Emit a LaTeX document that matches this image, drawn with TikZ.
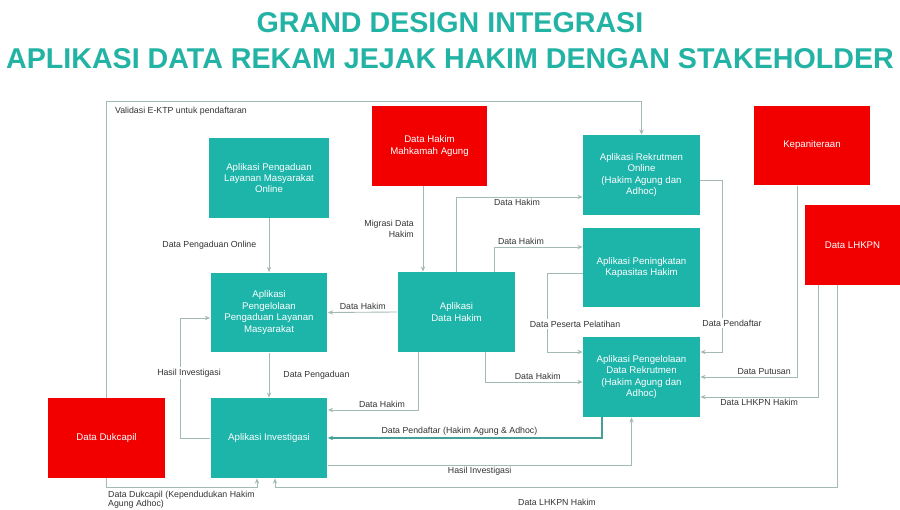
\documentclass[tikz,border=0pt]{standalone}
\usepackage{fontspec}
\setmainfont{Liberation Sans}
\usetikzlibrary{positioning, arrows.meta, calc}
\definecolor{tealbox}{HTML}{1DB5AA}
\definecolor{redbox}{HTML}{F20000}
\definecolor{titleteal}{HTML}{22B3A5}
\definecolor{linegray}{HTML}{A3BAB7}

\begin{document}
\begin{tikzpicture}[x=0.02cm, y=-0.02cm,
  app/.style={fill=tealbox, text=white, minimum width=2.34cm, minimum height=1.6cm,
    align=center, inner sep=1pt, font=\fontsize{5.5}{6.5}\selectfont},
  src/.style={app, fill=redbox},
  conn/.style={draw=linegray, line width=0.5pt, -{Stealth[length=3pt,width=2.5pt]}},
  lbl/.style={font=\fontsize{5}{6}\selectfont, text=black!80, inner sep=1pt},
  title/.style={font=\bfseries\fontsize{16.3}{19}\selectfont, text=titleteal}]
\useasboundingbox (0,0) rectangle (900,510);

% judul
\node[title] (t1) at (450,23) {GRAND DESIGN INTEGRASI};
\node[title] (t2) at (450,59) {APLIKASI DATA REKAM JEJAK HAKIM DENGAN STAKEHOLDER};

% kotak aplikasi dan sumber data
\node[app, minimum width=2.4cm] (onl) at (269,178) {Aplikasi Pengaduan\\Layanan Masyarakat\\Online};
\node[src, minimum width=2.3cm] (mahk) at (429.5,146) {Data Hakim\\Mahkamah Agung};
\node[app] (rekr) at (641.5,175) {Aplikasi Rekrutmen\\Online\\(Hakim Agung dan\\Adhoc)};
\node[src, minimum width=2.32cm] (kep) at (812,145.5) {Kepaniteraan};
\node[src, minimum width=1.9cm] (lhkpn) at (852.5,245) {Data LHKPN};
\node[app] (pkh) at (641.5,267.5) {Aplikasi Peningkatan\\Kapasitas Hakim};
\node[app] (peng) at (269,312.5) {Aplikasi\\Pengelolaan\\Pengaduan Layanan\\Masyarakat};
\node[app] (dh) at (456.5,312) {Aplikasi\\Data Hakim};
\node[app] (rkd) at (641.5,377) {Aplikasi Pengelolaan\\Data Rekrutmen\\(Hakim Agung dan\\Adhoc)};
\node[src] (dukc) at (106.5,438) {Data Dukcapil};
\node[app] (inv) at (269,438) {Aplikasi Investigasi};

% titik bantu
\coordinate (tl) at (107,101);
\coordinate (bl) at (107,487);
\coordinate (br) at (837,487);
\coordinate (mig) at ([xshift=-0.13cm]mahk.south);
\coordinate (invin1) at ([xshift=-0.24cm]inv.south);
\coordinate (invin2) at ([xshift=0.12cm]inv.south);

% alur data
\draw[conn] (dukc.north) |- (tl -| rekr.north) -- (rekr.north);
\node[lbl, anchor=west] (lval) at (113,111) {Validasi E-KTP untuk pendaftaran};
\draw[conn] (dukc.south) |- (invin1 |- bl) -- (invin1);
\node[lbl, anchor=south west, align=left, inner sep=0.5pt, font=\fontsize{5}{5.2}\selectfont] (lduk) at (107,510) {Data Dukcapil (Kependudukan Hakim\\Agung Adhoc)};
\draw[conn] ([xshift=-0.31cm]lhkpn.south) |- (invin2 |- br) -- (invin2);
\node[lbl] (llhk) at (557,502) {Data LHKPN Hakim};

\draw[conn] (onl.south) -- (peng.north) node[lbl, midway, left=6pt] {Data Pengaduan Online};
\draw[conn] (mig) -- (mig |- dh.north) node[lbl, midway, left=4pt, align=right] {Migrasi Data\\Hakim};
\draw[conn] (dh.north) |- ([yshift=-0.44cm]rekr.west) node[lbl, pos=0.74, below] {Data Hakim};
\draw[conn] ([xshift=0.76cm]dh.north) |- ([yshift=0.41cm]pkh.west) node[lbl, pos=0.65, above] {Data Hakim};
\draw[conn] (dh.west) -- (peng.east) node[lbl, midway, above] {Data Hakim};
\draw[conn] ([xshift=0.57cm]dh.south) |- ([yshift=-0.1cm]rkd.west) node[lbl, pos=0.77, above] {Data Hakim};
\draw[conn] ([xshift=-0.77cm]dh.south) |- ([yshift=0.56cm]inv.east) node[lbl, pos=0.7, above] {Data Hakim};

\draw[conn] ([yshift=-0.11cm]pkh.west) -- ++(-35,0) |- ([yshift=0.5cm]rkd.west);
\node[lbl, fill=white] (lpes) at (575,324) {Data Peserta Pelatihan};
\draw[conn] ([yshift=-0.1cm]rekr.east) -- ++(22,0) |- ([yshift=0.5cm]rkd.east);
\node[lbl, fill=white] (lpen) at (732,323) {Data Pendaftar};
\draw[conn] ([xshift=-0.3cm]kep.south) |- (rkd.east) node[lbl, pos=0.67, above] {Data Putusan};
\draw[conn] ([xshift=-0.69cm]lhkpn.south) |- ([yshift=-0.4cm]rkd.east) node[lbl, pos=0.75, below] {Data LHKPN Hakim};

\draw[conn, draw=tealbox!60!gray, line width=1pt] ([xshift=-0.79cm]rkd.south) |- (inv.east)
  node[lbl, pos=0.76, above] {Data Pendaftar (Hakim Agung \& Adhoc)};
\draw[conn] ([yshift=-0.54cm]inv.east) -| ([xshift=-0.2cm]rkd.south) node[lbl, pos=0.25, below] {Hasil Investigasi};
\draw[conn] (inv.west) -- ++(-30,0) |- ([yshift=-0.11cm]peng.west);
\node[lbl, fill=white] (lhas) at (189,373) {Hasil Investigasi};
\draw[conn] (peng.south) -- (inv.north) node[lbl, midway, right=7pt] {Data Pengaduan};
\end{tikzpicture}
\end{document}
